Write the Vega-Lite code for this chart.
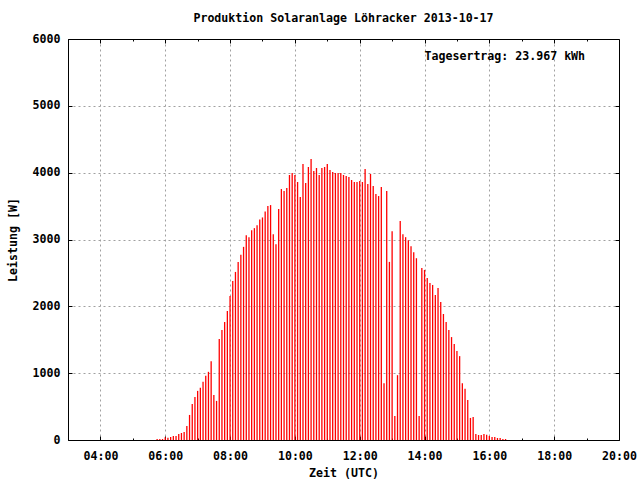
{
  "$schema": "https://vega.github.io/schema/vega-lite/v6.json",
  "width": 551,
  "height": 401,
  "autosize": {"type": "none"},
  "padding": {"left": 68, "top": 39, "right": 21, "bottom": 40},
  "background": "white",
  "config": {
    "font": "DejaVu Sans Mono",
    "view": {"stroke": "black", "strokeWidth": 1},
    "axis": {
      "labelFont": "DejaVu Sans Mono",
      "labelFontSize": 11.6,
      "labelFontWeight": "bold",
      "labelColor": "black",
      "titleFont": "DejaVu Sans Mono",
      "titleFontSize": 11.6,
      "titleFontWeight": "bold",
      "titleColor": "black",
      "domainColor": "black",
      "tickColor": "black",
      "gridColor": "#a0a0a0",
      "gridDash": [2, 3],
      "labelOverlap": false,
      "labelFlush": false
    }
  },
  "title": {
    "text": "Produktion Solaranlage Löhracker 2013-10-17",
    "font": "DejaVu Sans Mono",
    "fontSize": 11.6,
    "fontWeight": "bold",
    "color": "black",
    "anchor": "middle",
    "frame": "group",
    "offset": 8
  },
  "layer": [
    {
      "data": {
        "values": [
          {"t": "2013-10-17T05:45:00Z", "w": 15}, {"t": "2013-10-17T05:50:00Z", "w": 15}, {"t": "2013-10-17T05:55:00Z", "w": 15},
          {"t": "2013-10-17T06:00:00Z", "w": 40}, {"t": "2013-10-17T06:05:00Z", "w": 35}, {"t": "2013-10-17T06:10:00Z", "w": 45},
          {"t": "2013-10-17T06:15:00Z", "w": 60}, {"t": "2013-10-17T06:20:00Z", "w": 60}, {"t": "2013-10-17T06:25:00Z", "w": 90},
          {"t": "2013-10-17T06:30:00Z", "w": 105}, {"t": "2013-10-17T06:35:00Z", "w": 120}, {"t": "2013-10-17T06:40:00Z", "w": 210},
          {"t": "2013-10-17T06:45:00Z", "w": 375}, {"t": "2013-10-17T06:50:00Z", "w": 540}, {"t": "2013-10-17T06:55:00Z", "w": 645},
          {"t": "2013-10-17T07:00:00Z", "w": 735}, {"t": "2013-10-17T07:05:00Z", "w": 780}, {"t": "2013-10-17T07:10:00Z", "w": 870},
          {"t": "2013-10-17T07:15:00Z", "w": 960}, {"t": "2013-10-17T07:20:00Z", "w": 1020}, {"t": "2013-10-17T07:25:00Z", "w": 1180},
          {"t": "2013-10-17T07:30:00Z", "w": 675}, {"t": "2013-10-17T07:35:00Z", "w": 585}, {"t": "2013-10-17T07:40:00Z", "w": 1510},
          {"t": "2013-10-17T07:45:00Z", "w": 1645}, {"t": "2013-10-17T07:50:00Z", "w": 1765}, {"t": "2013-10-17T07:55:00Z", "w": 1930},
          {"t": "2013-10-17T08:00:00Z", "w": 2155}, {"t": "2013-10-17T08:05:00Z", "w": 2380}, {"t": "2013-10-17T08:10:00Z", "w": 2515},
          {"t": "2013-10-17T08:15:00Z", "w": 2665}, {"t": "2013-10-17T08:20:00Z", "w": 2770}, {"t": "2013-10-17T08:25:00Z", "w": 2890},
          {"t": "2013-10-17T08:30:00Z", "w": 3065}, {"t": "2013-10-17T08:35:00Z", "w": 3035}, {"t": "2013-10-17T08:40:00Z", "w": 3140},
          {"t": "2013-10-17T08:45:00Z", "w": 3170}, {"t": "2013-10-17T08:50:00Z", "w": 3215}, {"t": "2013-10-17T08:55:00Z", "w": 3300},
          {"t": "2013-10-17T09:00:00Z", "w": 3330}, {"t": "2013-10-17T09:05:00Z", "w": 3420}, {"t": "2013-10-17T09:10:00Z", "w": 3500},
          {"t": "2013-10-17T09:15:00Z", "w": 3515}, {"t": "2013-10-17T09:20:00Z", "w": 3080}, {"t": "2013-10-17T09:25:00Z", "w": 2930},
          {"t": "2013-10-17T09:30:00Z", "w": 3455}, {"t": "2013-10-17T09:35:00Z", "w": 3755}, {"t": "2013-10-17T09:40:00Z", "w": 3725},
          {"t": "2013-10-17T09:45:00Z", "w": 3770}, {"t": "2013-10-17T09:50:00Z", "w": 3965}, {"t": "2013-10-17T09:55:00Z", "w": 3995},
          {"t": "2013-10-17T10:00:00Z", "w": 3965}, {"t": "2013-10-17T10:05:00Z", "w": 3860}, {"t": "2013-10-17T10:10:00Z", "w": 3635},
          {"t": "2013-10-17T10:15:00Z", "w": 4130}, {"t": "2013-10-17T10:20:00Z", "w": 3845}, {"t": "2013-10-17T10:25:00Z", "w": 4085},
          {"t": "2013-10-17T10:30:00Z", "w": 4205}, {"t": "2013-10-17T10:35:00Z", "w": 4025}, {"t": "2013-10-17T10:40:00Z", "w": 4070},
          {"t": "2013-10-17T10:45:00Z", "w": 3965}, {"t": "2013-10-17T10:50:00Z", "w": 4070}, {"t": "2013-10-17T10:55:00Z", "w": 4085},
          {"t": "2013-10-17T11:00:00Z", "w": 4130}, {"t": "2013-10-17T11:05:00Z", "w": 4040}, {"t": "2013-10-17T11:10:00Z", "w": 4010},
          {"t": "2013-10-17T11:15:00Z", "w": 3995}, {"t": "2013-10-17T11:20:00Z", "w": 3995}, {"t": "2013-10-17T11:25:00Z", "w": 3995},
          {"t": "2013-10-17T11:30:00Z", "w": 3965}, {"t": "2013-10-17T11:35:00Z", "w": 3950}, {"t": "2013-10-17T11:40:00Z", "w": 3935},
          {"t": "2013-10-17T11:45:00Z", "w": 3890}, {"t": "2013-10-17T11:50:00Z", "w": 3860}, {"t": "2013-10-17T11:55:00Z", "w": 3860},
          {"t": "2013-10-17T12:00:00Z", "w": 3875}, {"t": "2013-10-17T12:05:00Z", "w": 3860}, {"t": "2013-10-17T12:10:00Z", "w": 4055},
          {"t": "2013-10-17T12:15:00Z", "w": 3830}, {"t": "2013-10-17T12:20:00Z", "w": 3980}, {"t": "2013-10-17T12:25:00Z", "w": 3800},
          {"t": "2013-10-17T12:30:00Z", "w": 3680}, {"t": "2013-10-17T12:35:00Z", "w": 3650}, {"t": "2013-10-17T12:40:00Z", "w": 3785},
          {"t": "2013-10-17T12:45:00Z", "w": 850}, {"t": "2013-10-17T12:50:00Z", "w": 3725}, {"t": "2013-10-17T12:55:00Z", "w": 2665},
          {"t": "2013-10-17T13:00:00Z", "w": 3125}, {"t": "2013-10-17T13:05:00Z", "w": 360}, {"t": "2013-10-17T13:10:00Z", "w": 970},
          {"t": "2013-10-17T13:15:00Z", "w": 3275}, {"t": "2013-10-17T13:20:00Z", "w": 3080}, {"t": "2013-10-17T13:25:00Z", "w": 3035},
          {"t": "2013-10-17T13:30:00Z", "w": 2990}, {"t": "2013-10-17T13:35:00Z", "w": 2900}, {"t": "2013-10-17T13:40:00Z", "w": 2810},
          {"t": "2013-10-17T13:45:00Z", "w": 2720}, {"t": "2013-10-17T13:50:00Z", "w": 360}, {"t": "2013-10-17T13:55:00Z", "w": 2575},
          {"t": "2013-10-17T14:00:00Z", "w": 2545}, {"t": "2013-10-17T14:05:00Z", "w": 2425}, {"t": "2013-10-17T14:10:00Z", "w": 2350},
          {"t": "2013-10-17T14:15:00Z", "w": 2320}, {"t": "2013-10-17T14:20:00Z", "w": 2170}, {"t": "2013-10-17T14:25:00Z", "w": 2275},
          {"t": "2013-10-17T14:30:00Z", "w": 2065}, {"t": "2013-10-17T14:35:00Z", "w": 1885}, {"t": "2013-10-17T14:40:00Z", "w": 1765},
          {"t": "2013-10-17T14:45:00Z", "w": 1645}, {"t": "2013-10-17T14:50:00Z", "w": 1540}, {"t": "2013-10-17T14:55:00Z", "w": 1435},
          {"t": "2013-10-17T15:00:00Z", "w": 1330}, {"t": "2013-10-17T15:05:00Z", "w": 1255}, {"t": "2013-10-17T15:10:00Z", "w": 850},
          {"t": "2013-10-17T15:15:00Z", "w": 765}, {"t": "2013-10-17T15:20:00Z", "w": 600}, {"t": "2013-10-17T15:25:00Z", "w": 330},
          {"t": "2013-10-17T15:30:00Z", "w": 345}, {"t": "2013-10-17T15:35:00Z", "w": 90}, {"t": "2013-10-17T15:40:00Z", "w": 75},
          {"t": "2013-10-17T15:45:00Z", "w": 75}, {"t": "2013-10-17T15:50:00Z", "w": 90}, {"t": "2013-10-17T15:55:00Z", "w": 80},
          {"t": "2013-10-17T16:00:00Z", "w": 60}, {"t": "2013-10-17T16:05:00Z", "w": 45}, {"t": "2013-10-17T16:10:00Z", "w": 45},
          {"t": "2013-10-17T16:15:00Z", "w": 30}, {"t": "2013-10-17T16:20:00Z", "w": 30}, {"t": "2013-10-17T16:25:00Z", "w": 15},
          {"t": "2013-10-17T16:30:00Z", "w": 15}
        ]
      },
      "mark": {"type": "rule", "color": "#ff0000", "strokeWidth": 1.3},
      "encoding": {
        "x": {
          "field": "t",
          "type": "temporal",
          "scale": {
            "type": "utc",
            "domain": [
              {"year": 2013, "month": 10, "date": 17, "hours": 3, "utc": true},
              {"year": 2013, "month": 10, "date": 17, "hours": 20, "utc": true}
            ]
          },
          "axis": {
            "orient": "bottom",
            "values": [
              {"year": 2013, "month": 10, "date": 17, "hours": 4, "utc": true},
              {"year": 2013, "month": 10, "date": 17, "hours": 5, "utc": true},
              {"year": 2013, "month": 10, "date": 17, "hours": 6, "utc": true},
              {"year": 2013, "month": 10, "date": 17, "hours": 7, "utc": true},
              {"year": 2013, "month": 10, "date": 17, "hours": 8, "utc": true},
              {"year": 2013, "month": 10, "date": 17, "hours": 9, "utc": true},
              {"year": 2013, "month": 10, "date": 17, "hours": 10, "utc": true},
              {"year": 2013, "month": 10, "date": 17, "hours": 11, "utc": true},
              {"year": 2013, "month": 10, "date": 17, "hours": 12, "utc": true},
              {"year": 2013, "month": 10, "date": 17, "hours": 13, "utc": true},
              {"year": 2013, "month": 10, "date": 17, "hours": 14, "utc": true},
              {"year": 2013, "month": 10, "date": 17, "hours": 15, "utc": true},
              {"year": 2013, "month": 10, "date": 17, "hours": 16, "utc": true},
              {"year": 2013, "month": 10, "date": 17, "hours": 17, "utc": true},
              {"year": 2013, "month": 10, "date": 17, "hours": 18, "utc": true},
              {"year": 2013, "month": 10, "date": 17, "hours": 19, "utc": true},
              {"year": 2013, "month": 10, "date": 17, "hours": 20, "utc": true}
            ],
            "labelExpr": "utchours(datum.value) % 2 == 0 ? utcFormat(datum.value, '%H:%M') : ''",
            "grid": true,
            "gridOpacity": {"condition": {"test": "utchours(datum.value) % 2 == 0", "value": 1}, "value": 0},
            "tickSize": -4,
            "tickDash": {"condition": {"test": "utchours(datum.value) % 2 == 0", "value": [4, 0]}, "value": [2, 10]},
            "labelPadding": 14,
            "title": "Zeit (UTC)",
            "titlePadding": 6
          }
        },
        "y": {
          "field": "w",
          "type": "quantitative",
          "scale": {"domain": [0, 6000]},
          "axis": {
            "orient": "left",
            "values": [0, 1000, 2000, 3000, 4000, 5000, 6000],
            "format": "d",
            "grid": true,
            "tickSize": -4,
            "labelPadding": 12,
            "title": "Leistung [W]",
            "titlePadding": 14
          }
        },
        "y2": {"datum": 0}
      }
    },
    {
      "data": {"values": [{"t": "2013-10-17T14:00:00Z", "w": 5690, "label": "Tagesertrag: 23.967 kWh"}]},
      "mark": {"type": "text", "align": "left", "baseline": "alphabetic", "font": "DejaVu Sans Mono", "fontSize": 11.6, "fontWeight": "bold", "color": "black"},
      "encoding": {
        "x": {
          "field": "t",
          "type": "temporal",
          "axis": {
            "orient": "top",
            "values": [
              {"year": 2013, "month": 10, "date": 17, "hours": 4, "utc": true},
              {"year": 2013, "month": 10, "date": 17, "hours": 5, "utc": true},
              {"year": 2013, "month": 10, "date": 17, "hours": 6, "utc": true},
              {"year": 2013, "month": 10, "date": 17, "hours": 7, "utc": true},
              {"year": 2013, "month": 10, "date": 17, "hours": 8, "utc": true},
              {"year": 2013, "month": 10, "date": 17, "hours": 9, "utc": true},
              {"year": 2013, "month": 10, "date": 17, "hours": 10, "utc": true},
              {"year": 2013, "month": 10, "date": 17, "hours": 11, "utc": true},
              {"year": 2013, "month": 10, "date": 17, "hours": 12, "utc": true},
              {"year": 2013, "month": 10, "date": 17, "hours": 13, "utc": true},
              {"year": 2013, "month": 10, "date": 17, "hours": 14, "utc": true},
              {"year": 2013, "month": 10, "date": 17, "hours": 15, "utc": true},
              {"year": 2013, "month": 10, "date": 17, "hours": 16, "utc": true},
              {"year": 2013, "month": 10, "date": 17, "hours": 17, "utc": true},
              {"year": 2013, "month": 10, "date": 17, "hours": 18, "utc": true},
              {"year": 2013, "month": 10, "date": 17, "hours": 19, "utc": true}
            ],
            "labels": false,
            "grid": false,
            "tickSize": -4,
            "tickDash": {"condition": {"test": "utchours(datum.value) % 2 == 0", "value": [4, 0]}, "value": [2, 10]},
            "title": null
          }
        },
        "y": {
          "field": "w",
          "type": "quantitative",
          "axis": {
            "orient": "right",
            "values": [1000, 2000, 3000, 4000, 5000],
            "labels": false,
            "grid": false,
            "tickSize": -4,
            "title": null
          }
        },
        "text": {"field": "label"}
      }
    }
  ],
  "resolve": {"axis": {"x": "independent", "y": "independent"}}
}
